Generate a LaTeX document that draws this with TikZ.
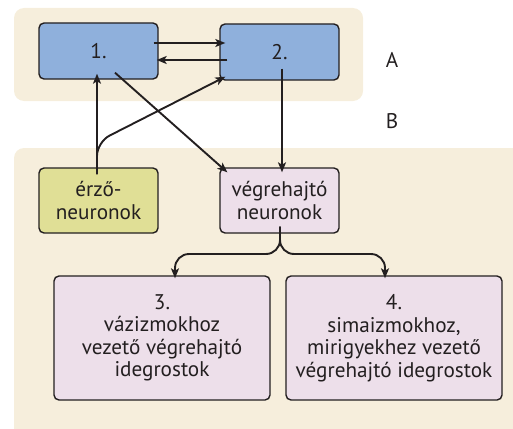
\documentclass[tikz,border=0pt]{standalone}
\usepackage{fontspec}
\setmainfont{PT Sans}
\usetikzlibrary{arrows.meta}
\definecolor{panelbg}{HTML}{F6EEDC}
\definecolor{boxblue}{HTML}{8FB0DC}
\definecolor{boxpink}{HTML}{EDDFEA}
\definecolor{boxyellow}{HTML}{E0DF96}
\definecolor{ink}{HTML}{231F20}
\tikzset{
  box/.style={draw=ink, line width=1.4pt, rounded corners=5pt, align=center,
    font=\fontsize{21.2}{22.5}\selectfont, text=ink, inner sep=0pt},
  smallbox/.style={box, minimum width=119pt, minimum height=56pt},
  midbox/.style={box, minimum width=119pt, minimum height=65pt},
  bigbox/.style={box, fill=boxpink, minimum width=216pt, minimum height=124pt},
  arr/.style={draw=ink, line width=1.9pt, -{Stealth[length=10pt,width=8pt,inset=2.5pt]}},
  lbl/.style={font=\fontsize{21.2}{22.5}\selectfont, text=ink}
}
\begin{document}
\begin{tikzpicture}[x=1pt,y=-1pt]
  \useasboundingbox (0,0) rectangle (513,428);
  % background panels
  \fill[panelbg, rounded corners=10pt] (14,8) rectangle (363,101);
  \fill[panelbg, rounded corners=10pt] (14,148) rectangle (530,450);

  % nodes
  \node[smallbox, fill=boxblue] (b1) at (98.5,51) {1.};
  \node[smallbox, fill=boxblue] (b2) at (279.5,52) {2.};
  \node[midbox, fill=boxyellow] (e) at (98.5,200.5) {érző-\\neuronok};
  \node[midbox, fill=boxpink] (v) at (279.5,200.5) {végrehajtó\\neuronok};
  \node[bigbox] (b3) at (162,338) {3.\\vázizmokhoz\\vezető végrehajtó\\idegrostok};
  \node[bigbox] (b4) at (394,338) {4.\\simaizmokhoz,\\mirigyekhez vezető\\végrehajtó idegrostok};

  \node[lbl] (la) at (392,60) {A};
  \node[lbl] (lb) at (392,121) {B};

  % connectors
  \draw[arr] ([shift={(-5pt,8pt)}]b1.east) -- ([shift={(6pt,9pt)}]b2.west);
  \draw[arr] ([shift={(8pt,-8pt)}]b2.west) -- ([shift={(-2pt,-9pt)}]b1.east);
  \draw[arr] ([shift={(-1.5pt,-7pt)}]e.north) -- ([shift={(-1.5pt,6pt)}]b1.south);
  \coordinate (ebend) at (97,142);
  \draw[arr, rounded corners=14pt] ([shift={(-1.5pt,-7pt)}]e.north) -- (ebend) -- ([shift={(6pt,4pt)}]b2.south west);
  \draw[arr] ([shift={(16.5pt,7pt)}]b1.south) -- ([shift={(8pt,-5pt)}]v.north west);
  \draw[arr] ([shift={(2.5pt,12pt)}]b2.south) -- ([shift={(2.5pt,-5pt)}]v.north);
  \coordinate (fork) at (280,254);
  \draw[arr, rounded corners=14pt] ([shift={(0.5pt,7pt)}]v.south) -- (fork) -- (175,254) -- ([shift={(13pt,-3pt)}]b3.north);
  \draw[arr, rounded corners=14pt] ([shift={(0.5pt,7pt)}]v.south) -- (fork) -- (385,254) -- ([shift={(-9pt,-3pt)}]b4.north);
\end{tikzpicture}
\end{document}
